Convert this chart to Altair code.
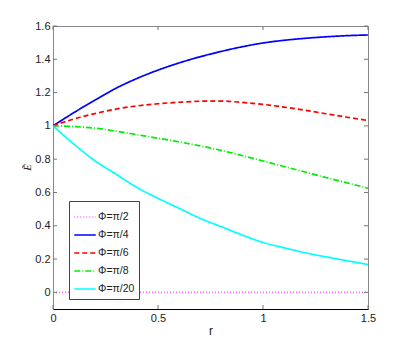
import altair as alt
import pandas as pd

# ---- data ----
r = [0.0, 0.1, 0.2, 0.3, 0.4, 0.5, 0.6, 0.7, 0.8, 0.9, 1.0, 1.1, 1.2, 1.3, 1.4, 1.5]
series_names = ["Φ=π/2", "Φ=π/4", "Φ=π/6", "Φ=π/8", "Φ=π/20"]
e_pi2 = [0.0] * 16
e_pi4 = [1.0, 1.08, 1.155, 1.226, 1.285, 1.335, 1.378, 1.415, 1.447, 1.475, 1.498, 1.514, 1.526, 1.535, 1.542, 1.546]
e_pi6 = [1.0, 1.042, 1.074, 1.101, 1.12, 1.133, 1.142, 1.148, 1.149, 1.141, 1.129, 1.113, 1.094, 1.073, 1.052, 1.032]
e_pi8 = [1.0, 0.996, 0.986, 0.968, 0.947, 0.926, 0.904, 0.88, 0.853, 0.822, 0.789, 0.756, 0.723, 0.69, 0.658, 0.626]
e_pi20 = [1.0, 0.89, 0.79, 0.71, 0.63, 0.565, 0.505, 0.445, 0.395, 0.345, 0.30, 0.268, 0.238, 0.213, 0.19, 0.167]
x_ticks = [0, 0.5, 1, 1.5]
y_ticks = [0, 0.2, 0.4, 0.6, 0.8, 1.0, 1.2, 1.4, 1.6]

colors = ["#ff66ff", "#0000ff", "#ff0000", "#00ee00", "#00ffff"]
dashes = [[1, 2], [1, 0], [5, 3], [6, 2, 1, 2], [1, 0]]

rows = []
for name, vals in zip(series_names, [e_pi2, e_pi4, e_pi6, e_pi8, e_pi20]):
    for rv, ev in zip(r, vals):
        rows.append({"r": rv, "E": ev, "phi": name})
df = pd.DataFrame(rows)

W, H = 315, 283
FONT = "Liberation Sans"

xs = alt.Scale(domain=[0, 1.5], nice=False, zero=False)
ys = alt.Scale(domain=[-0.1, 1.6], nice=False, zero=False)

x_axis = alt.Axis(values=x_ticks, format="~g", title="r", domainColor="black",
                  labelPadding=3, labelFlush=False, titleFontWeight="normal", titleFont=FONT,
                  titleFontSize=12, titleY=25, titleBaseline="alphabetic")
y_axis = alt.Axis(values=y_ticks, format="~g", title="Ẽ", domainColor="#888888",
                  labelPadding=3, labelFlush=False, titleFont="Liberation Serif",
                  titleFontStyle="italic",
                  titleFontWeight="normal", titleFontSize=11, titleAngle=270,
                  titleX=-26, titleY=141, titleAlign="center", titleBaseline="middle")

lines = alt.Chart(df).mark_line(clip=True, interpolate="monotone", strokeWidth=1.7).encode(
    x=alt.X("r:Q", scale=xs, axis=x_axis),
    y=alt.Y("E:Q", scale=ys, axis=y_axis),
    color=alt.Color("phi:N", sort=series_names, title=None,
                    scale=alt.Scale(domain=series_names, range=colors)),
    strokeDash=alt.StrokeDash("phi:N", sort=series_names, title=None,
                              scale=alt.Scale(domain=series_names, range=dashes)),
)

xt = pd.DataFrame({"r": x_ticks})
yt = pd.DataFrame({"E": y_ticks})
tick_color = "#777777"
xb = alt.Chart(xt).mark_rule(color=tick_color).encode(
    x=alt.X("r:Q", scale=xs, axis=x_axis), y=alt.value(H), y2=alt.value(H - 4))
xtp = alt.Chart(xt).mark_rule(color=tick_color).encode(
    x=alt.X("r:Q", scale=xs, axis=x_axis), y=alt.value(0), y2=alt.value(4))
yl = alt.Chart(yt).mark_rule(color=tick_color).encode(
    y=alt.Y("E:Q", scale=ys, axis=y_axis), x=alt.value(0), x2=alt.value(4))
yr = alt.Chart(yt).mark_rule(color=tick_color).encode(
    y=alt.Y("E:Q", scale=ys, axis=y_axis), x=alt.value(W), x2=alt.value(W - 4))

chart = alt.layer(lines, xb, xtp, yl, yr).properties(
    width=W, height=H,
    padding={"left": 45, "top": 18, "right": 30, "bottom": 30},
    autosize=alt.AutoSizeParams(type="none"),
).configure_view(
    stroke="#888888", strokeWidth=1
).configure_axis(
    grid=False, tickSize=0, labelFont=FONT, labelFontSize=11, labelColor="#222222",
    titleColor="#222222"
).configure_legend(
    orient="none", legendX=16, legendY=175, symbolType="stroke", symbolSize=462,
    symbolStrokeWidth=1.7,
    labelFont=FONT, labelFontSize=10.5, labelColor="#222222", strokeColor="#444444",
    fillColor="white", padding=4, rowPadding=0, labelOffset=1, symbolOffset=0,
    cornerRadius=0
)

chart.save("out.html", embed_options={"renderer": "svg", "actions": False})
